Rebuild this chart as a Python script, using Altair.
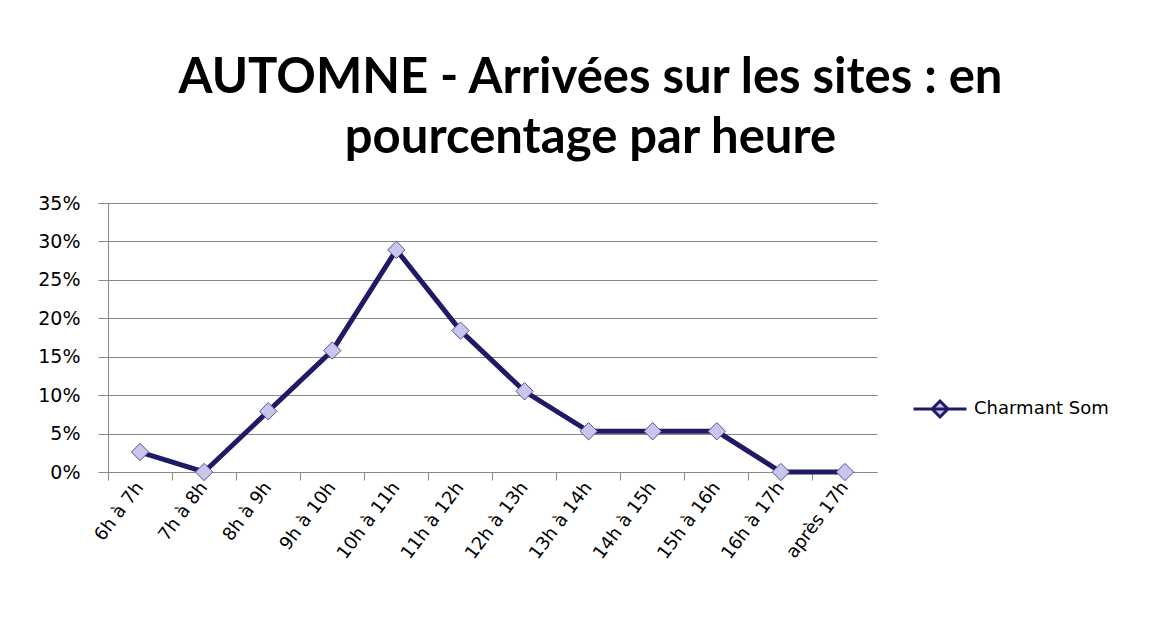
import altair as alt
import pandas as pd

categories = ["6h à 7h", "7h à 8h", "8h à 9h", "9h à 10h", "10h à 11h", "11h à 12h",
              "12h à 13h", "13h à 14h", "14h à 15h", "15h à 16h", "16h à 17h", "après 17h"]
values_pct = [2.6, 0.0, 7.9, 15.8, 28.9, 18.4, 10.5, 5.3, 5.3, 5.3, 0.0, 0.0]
series_name = "Charmant Som"
title_lines = ["AUTOMNE - Arrivées sur les sites : en", "pourcentage par heure"]
y_ticks = [0, 0.05, 0.10, 0.15, 0.20, 0.25, 0.30, 0.35]

df = pd.DataFrame({
    "heure": categories,
    "valeur": [v / 100 for v in values_pct],
    "serie": [series_name] * len(categories),
})

NAVY = "#1F1A66"
FILL = "#C9C6EE"
W, H = 769, 269

x_enc = alt.X("heure:N", sort=categories, title=None,
              scale=alt.Scale(type="band", paddingInner=0, paddingOuter=0),
              axis=alt.Axis(bandPosition=0, tickExtra=True,
                            labelAngle=-53, labelAlign="right", labelBaseline="middle",
                            labelFont="DejaVu Sans", labelFontSize=18, labelColor="#000000",
                            labelPadding=4, tickSize=8, tickColor="#888888",
                            domainColor="#888888", grid=False, labelOverlap=False))
y_enc = alt.Y("valeur:Q", title=None,
              scale=alt.Scale(domain=[0, 0.35], nice=False),
              axis=alt.Axis(values=y_ticks, format=".0%", labelOverlap=False,
                            labelFont="DejaVu Sans", labelFontSize=19, labelColor="#000000",
                            labelPadding=18, tickSize=10, tickColor="#888888",
                            domainColor="#888888", grid=True, gridColor="#888888",
                            gridOpacity=1))

line = alt.Chart(df).mark_line(strokeWidth=5).encode(
    x=x_enc, y=y_enc,
    color=alt.Color("serie:N", scale=alt.Scale(range=[NAVY]),
                    legend=alt.Legend(title=None, orient="none", legendX=804, legendY=178,
                                      symbolType="M-1,0H1M-0.3,0L0,-0.3L0.3,0L0,0.3Z",
                                      symbolSize=2809, symbolStrokeWidth=3,
                                      symbolFillColor=FILL,
                                      labelFont="DejaVu Sans", labelFontSize=18,
                                      labelColor="#000000", labelOffset=6)),
)
points = alt.Chart(df).mark_point(shape="diamond", size=300, filled=True, fill=FILL,
                                  stroke="#55528F", strokeWidth=1, opacity=1).encode(
    x=x_enc, y=y_enc)

chart = alt.layer(line, points).properties(
    width=W, height=H,
    title=alt.TitleParams(text=title_lines, font="Lato", fontSize=49, fontWeight="bold",
                          color="#000000", anchor="middle", dx=98, lineHeight=60, offset=31),
    autosize=alt.AutoSizeParams(type="none"),
    padding={"left": 100, "top": 195, "right": 260, "bottom": 150},
).configure_view(stroke=None)

chart.save("out.html", embed_options={"renderer": "svg", "actions": False})
